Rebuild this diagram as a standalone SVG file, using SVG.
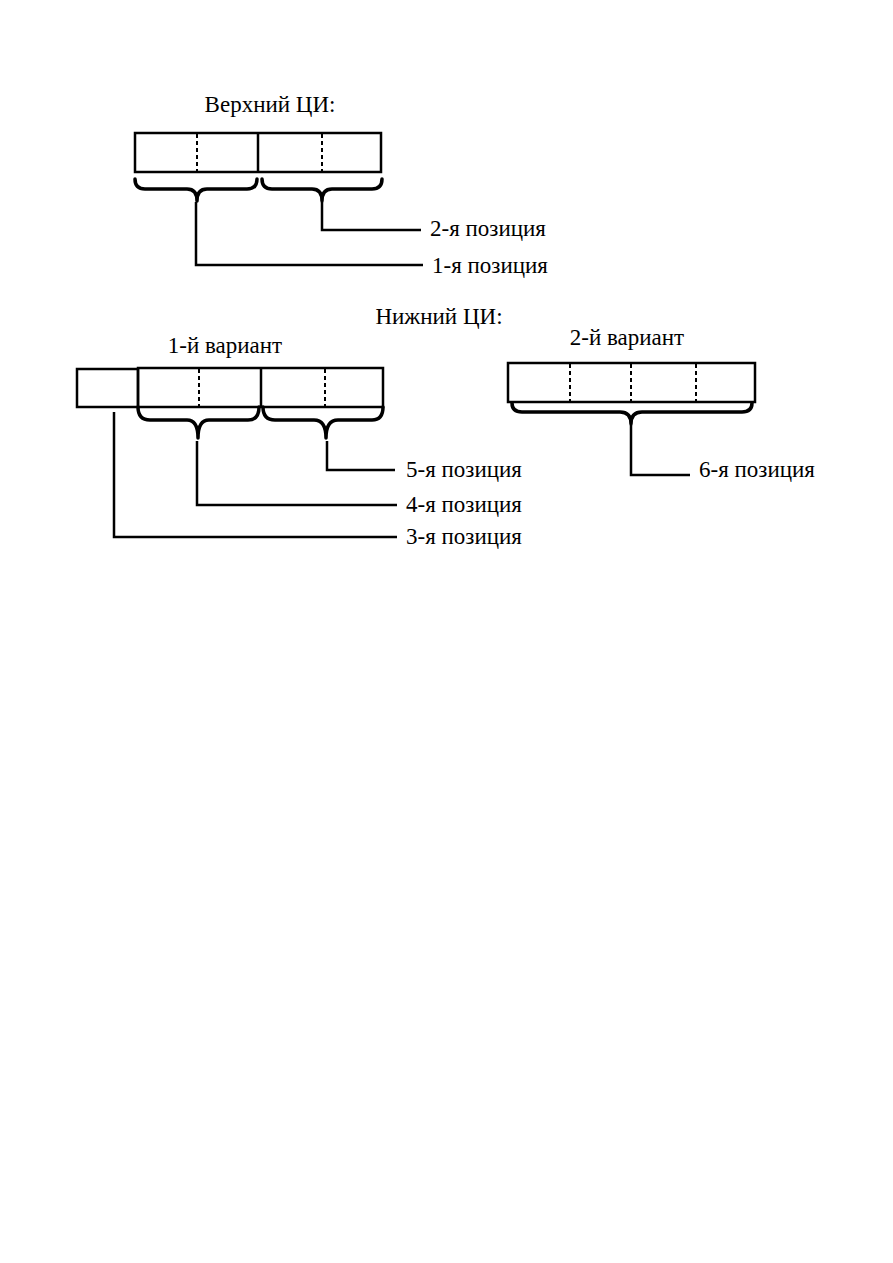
<svg xmlns="http://www.w3.org/2000/svg" width="893" height="1263" viewBox="0 0 893 1263">
<style>
.box{fill:none;stroke:#000;stroke-width:2.5}
.dash{fill:none;stroke:#000;stroke-width:2;stroke-dasharray:4 3}
.brace{fill:none;stroke:#000;stroke-width:3.5;stroke-linejoin:round;stroke-linecap:round}
.ln{fill:none;stroke:#000;stroke-width:2.5}
text{font-family:"Liberation Serif","Times New Roman",serif;font-size:23px;fill:#000}
</style>
<rect width="893" height="1263" fill="#fff"/>
<g id="title-upper"><text x="270" y="112" text-anchor="middle">Верхний ЦИ:</text></g>
<g id="upper-box">
<rect class="box" x="135" y="133" width="246" height="39"/>
<line class="box" x1="258" y1="133" x2="258" y2="172"/>
<line class="dash" x1="197" y1="134" x2="197" y2="171"/>
<line class="dash" x1="322" y1="134" x2="322" y2="171"/>
</g>
<g id="upper-braces">
<path class="brace" d="M135 179 Q135 189 145 189 L187 189 Q197 189 197 201 Q197 189 207 189 L247 189 Q257 189 257 179"/>
<path class="brace" d="M262 179 Q262 189 272 189 L312 189 Q322 189 322 201 Q322 189 332 189 L372 189 Q382 189 382 179"/>
</g>
<g id="connectors">
<polyline class="ln" points="322,202 322,230 421,230"/>
<polyline class="ln" points="196,202 196,265 423,265"/>
<polyline class="ln" points="114,412 114,537 397,537"/>
<polyline class="ln" points="197,441 197,505 397,505"/>
<polyline class="ln" points="327,441 327,470 395,470"/>
<polyline class="ln" points="631,425 631,475 690,475"/>
</g>
<g id="label-2"><text x="430" y="236">2-я позиция</text></g>
<g id="label-1"><text x="432" y="273">1-я позиция</text></g>
<g id="title-lower"><text x="439" y="324" text-anchor="middle">Нижний ЦИ:</text></g>
<g id="title-var1"><text x="225" y="353" text-anchor="middle">1-й вариант</text></g>
<g id="title-var2"><text x="627" y="345" text-anchor="middle">2-й вариант</text></g>
<g id="var1-box">
<rect class="box" x="77" y="369" width="61" height="38"/>
<rect class="box" x="138" y="368" width="245" height="39"/>
<line class="box" x1="261" y1="368" x2="261" y2="407"/>
<line class="dash" x1="199" y1="369" x2="199" y2="406"/>
<line class="dash" x1="325" y1="369" x2="325" y2="406"/>
</g>
<g id="var1-braces">
<path class="brace" d="M138 407 Q138 420 150 420 L187 420 Q198 420 198 438 Q198 420 209 420 L248 420 Q259 420 259 407"/>
<path class="brace" d="M263 407 Q263 420 275 420 L314 420 Q326 420 326 438 Q326 420 338 420 L372 420 Q383 420 383 407"/>
</g>
<g id="var2-box">
<rect class="box" x="508" y="363" width="247" height="39"/>
<line class="dash" x1="570" y1="364" x2="570" y2="401"/>
<line class="dash" x1="631" y1="364" x2="631" y2="401"/>
<line class="dash" x1="696" y1="364" x2="696" y2="401"/>
</g>
<g id="var2-brace">
<path class="brace" d="M512 403 Q512 412 522 412 L620 412 Q631 412 631 424 Q631 412 642 412 L742 412 Q752 412 752 403"/>
</g>
<g id="label-5"><text x="406" y="477">5-я позиция</text></g>
<g id="label-4"><text x="406" y="512">4-я позиция</text></g>
<g id="label-3"><text x="406" y="544">3-я позиция</text></g>
<g id="label-6"><text x="699" y="477">6-я позиция</text></g>
</svg>
